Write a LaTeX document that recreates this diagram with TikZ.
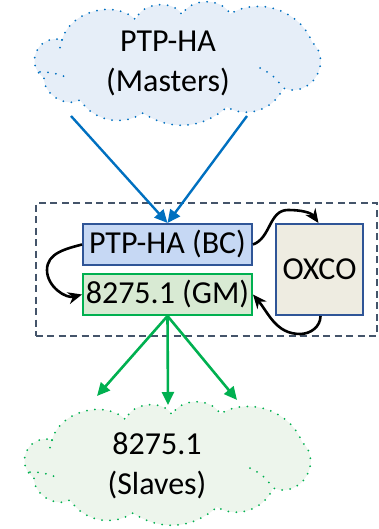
\documentclass[tikz,border=0pt]{standalone}
\usepackage{fontspec}
\setmainfont{Carlito}
\usetikzlibrary{arrows.meta}
\definecolor{blueA}{HTML}{0070C0}
\definecolor{cloudBfill}{HTML}{E6EEF8}
\definecolor{cloudGfill}{HTML}{EDF5EC}
\definecolor{greenA}{HTML}{00B050}
\definecolor{frameC}{HTML}{44546A}
\definecolor{bcfill}{HTML}{C6D8F4}
\definecolor{gmfill}{HTML}{D8EAD3}
\definecolor{oxfill}{HTML}{EEECE1}
\definecolor{darkblue}{HTML}{2F5597}
\newcommand\mycloudpath{(62,40) to[bend left=60] (136,20) to[bend left=70] (182,15) to[bend left=65] (230,14)
  to[bend left=50] (312,42) to[bend left=80,looseness=1.4] (283,88) to[bend left=50] (227,107)
  to[bend left=38] (143,113) to[bend left=45] (80,100) to[bend left=60] (44,78)
  to[bend left=80,looseness=1.5] cycle}
\newcommand\mycloudinner{(260,68) to[bend left=15] (283,88) (40,72) to[bend left=10] (66,77) (62,40) to[bend right=20] (60,48)}
\begin{document}
\begin{tikzpicture}[x=1pt,y=-1pt,
  txt/.style={font=\fontsize{32}{40}\selectfont},
  dots/.style={line width=2pt, line cap=round, dash pattern=on 0pt off 8pt},
  box/.style={rectangle, inner sep=0pt, line width=2pt, txt},
  bluearrow/.style={blueA, line width=2.4pt, -{Triangle[length=13pt,width=12pt]}},
  greenarrow/.style={greenA, line width=2.6pt, -{Triangle[length=13pt,width=12pt]}},
  blackarrow/.style={black, line width=2.6pt, -{Stealth[length=14pt,width=12pt]}}
]
\useasboundingbox (0,0) rectangle (378,529);
% top cloud
\fill[cloudBfill] \mycloudpath;
\draw[blueA, dots] \mycloudpath;
\draw[blueA, dots] \mycloudinner;
\node[txt, align=center] (toptxt) at (168,63) {PTP-HA\\(Masters)};
% bottom cloud
\begin{scope}[shift={(-10,400)}]
\fill[cloudGfill] \mycloudpath;
\draw[greenA, dots] \mycloudpath;
\draw[greenA, dots] \mycloudinner;
\end{scope}
\node[txt, align=center] (bottxt) at (157,466) {8275.1\\(Slaves)};
% dashed frame
\node[draw=frameC, line width=2pt, dash pattern=on 7pt off 4.5pt, rectangle, minimum width=341pt, minimum height=133pt, inner sep=0pt] (frame) at (206,269.5) {};
% boxes
\node[box, draw=darkblue, fill=bcfill, minimum width=169pt, minimum height=41pt] (bc) at (167.5,244.5) {PTP-HA (BC)};
\node[box, draw=greenA, fill=gmfill, minimum width=169pt, minimum height=41pt] (gm) at (167.5,294.5) {8275.1 (GM)};
\node[box, draw=darkblue, fill=oxfill, minimum width=87pt, minimum height=91pt] (ox) at (319.5,269.5) {OXCO};
% blue arrows
\coordinate (m1) at (71,116);
\coordinate (m2) at (247,116);
\draw[bluearrow] (m1) -- (bc.north);
\draw[bluearrow] (m2) -- (bc.north);
% green arrows
\coordinate (s1) at (97,396);
\coordinate (s2) at (168,405);
\coordinate (s3) at (237,400);
\draw[greenarrow] (gm.south) -- (s1);
\draw[greenarrow] (gm.south) -- (s2);
\draw[greenarrow] (gm.south) -- (s3);
% black arrows
\coordinate (p1) at (288,210);
\coordinate (p2) at (300,334);
\coordinate (p3) at (47,270);
\draw[blackarrow] (bc.east) to[out=20,in=180] (p1) to[out=0,in=125] ([xshift=-1pt]ox.north);
\draw[blackarrow] ([xshift=1pt]ox.south) to[out=-90,in=0] (p2) to[out=180,in=-50] (gm.east);
\draw[blackarrow] (bc.west) to[out=195,in=90] (p3) to[out=-90,in=195] (gm.west);
\end{tikzpicture}
\end{document}
